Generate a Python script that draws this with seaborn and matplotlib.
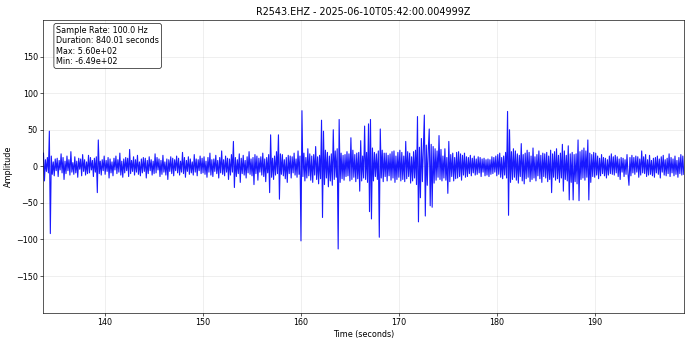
import numpy as np
import pandas as pd
import matplotlib
matplotlib.use("Agg")
import matplotlib.pyplot as plt
import seaborn as sns

# trace values, one value every 0.1 s starting at 133.7 s
start_time = 133.7
step = 0.1

quiet_start = [
    18, -20, 9,
    -7, 12, -9, 48, -92, 14, -11, 6, -13, 10,
    -6, 11, -14, 8, -5, 17, -9, 12, -18, 7,
    -10, 14, -6, 9, -12, 20, -8, 5, -11, 13,
    -9, 7, -15, 11, -4, 10, -13, 16, -7, 9,
    -12, 6, -10, 15, -9, 12, -5, 8, -14, 11,
    -8, 13, -36, 36, -10, 7, -12, 9, -6, 14,
    -11, 8, -7, 12, -16, 10, -9, 6, -13, 11,
    -5, 14, -10, 9, -8, 18, -12, 7, -15, 10,
    -9, 12, -6, 11, -14, 23, -10, 8, -7, 13,
    -12, 9, -8, 15, -11, 6, -13, 10, -9, 12,
    -7, 11, -16, 8, -10, 13, -6, 9, -12, 7,
    -10, 17, -9, 12, -5, 10, -14, 8, -11, 15,
    -8, 6, -12, 10, -18, 9, -7, 13, -10, 11,
    -13, 9, -6, 14, -9, 11, -12, 7, -8, 19,
    -10, 12, -15, 8, -7, 13, -11, 10, -9, 6,
    -12, 16, -8, 10, -13, 9, -6, 14, -10, 11,
]
build_up = [
    -9, 13, -11, 7, -15, 12, -8, 18, -12, 9,
    -14, 10, -7, 15, -10, 8, -16, 12, -9, 21,
    -11, 9, -13, 14, -8, 11, -18, 10, -12, 16,
    -8, 34, -29, 12, -14, 9, -10, 17, -22, 11,
    -10, 15, -12, 8, -16, 13, -9, 20, -11, 10,
    -13, 12, -25, 16, -10, 14, -19, 11, -8, 13,
    -12, 18, -14, 10, -21, 12, -9, 16, -36, 43,
    -15, 11, -18, 14, -12, 20, -10, 43, -45, 17,
    -11, 16, -13, 9, -17, 12, -22, 15, -10, 14,
    -16, 13, -9, 18, -12, 10, -15, 21, -11, 14,
]
event = [
    -102, 76, -14, 18, -20, 12, -16, 24, -13, 17,
    -19, 14, -22, 16, -12, 27, -18, 13, -24, 15,
    -17, 63, -70, 48, -25, 22, -16, 19, -28, 14,
    -20, 17, -26, 50, -18, 21, -15, 24, -113, 64,
    -22, 18, -17, 15, -19, 16, -14, 20, -13, 17,
    -20, 39, -18, 22, -15, 16, -21, 18, -17, 19,
    -34, 35, -20, 14, -16, 55, -18, 19, -22, 58,
    -62, 64, -72, 25, -20, 19, -14, 17, -18, 21,
    -97, 51, -16, 22, -21, 18, -14, 18, -20, 15,
    -13, 17, -19, 20, -16, 21, -22, 14, -18, 19,
    -15, 22, -20, 19, -18, 14, -21, 34, -17, 20,
    -14, 18, -23, 13, -20, 20, -16, 22, -25, 68,
    -76, 26, -43, 38, -21, 24, 70, -68, 29, -26,
    22, 51, -54, 30, -56, 27, -23, 24, -19, 21,
    -15, 42, -18, 23, -20, 14, -16, 24, -19, 12,
    -37, 34, -21, 16, -14, 18, -20, 12, -17, 19,
]
calm = [
    -16, 20, -14, 17, -19, 15, -12, 18, -15, 13,
    -14, 12, -10, 15, -13, 11, -9, 14, -12, 10,
    -11, 13, -9, 12, -14, 10, -8, 11, -13, 9,
    -12, 10, -14, 9, -11, 13, -10, 12, -8, 14,
    -13, 16, -11, 18, -15, 12, -17, 14, -12, 19,
]
aftershock = [
    -16, 75, -67, 50, -22, 20, -18, 24, -15, 21,
    -19, 17, -23, 15, -14, 31, -20, 16, -24, 18,
    -17, 22, -15, 19, -21, 14, -18, 25, -16, 13,
    -20, 16, -13, 21, -17, 15, -22, 18, -14, 17,
    -16, 19, -21, 14, -18, 22, -36, 17, -15, 20,
    -19, 24, -17, 15, -22, 18, -16, 30, -34, 21,
    -18, 15, -20, 28, -46, 17, -22, 19, -46, 16,
    -21, 17, -24, 36, -47, 20, -18, 22, -16, 25,
    -19, 21, -15, 36, -46, 18, -22, 16, -14, 19,
]
tail = [
    -15, 18, -12, 14, -17, 11, -13, 16, -10, 12,
    -13, 11, -16, 9, -12, 14, -10, 17, -11, 13,
    -12, 15, -9, 13, -14, 10, -18, 12, -8, 11,
    -14, 9, -11, 16, -10, -26, 12, -13, 15, -9,
    12, -11, 14, -8, 13, -15, 10, -12, 21, -9,
    13, -10, 16, -14, 9, -12, 15, -11, 8, -13,
    11, -15, 12, -9, 14, -11, 10, -16, 13, -8,
    15, -12, 9, -13, 11, -10, 17, -14, 12, -9,
    10, -13, 14, -11, 8, -15, 12, -10, 16, -12,
    14, -11,
]

title = "R2543.EHZ - 2025-06-10T05:42:00.004999Z"
stats_text = ("Sample Rate: 100.0 Hz\nDuration: 840.01 seconds\n"
              "Max: 5.60e+02\nMin: -6.49e+02")

amplitude = quiet_start + build_up + event + calm + aftershock + tail
df = pd.DataFrame({"Amplitude": amplitude})
df["Time"] = start_time + step * np.arange(len(df))

fig, ax = plt.subplots(figsize=(12, 6), dpi=57.5)
fig.subplots_adjust(left=0.063, right=0.991, top=0.942, bottom=0.094)

sns.lineplot(data=df, x="Time", y="Amplitude", ax=ax, color="blue",
             linewidth=1.4, alpha=0.9, estimator=None, sort=False)

ax.set_xlim(133.7, 199.1)
ax.set_ylim(-200, 200)
ax.set_xticks([140, 150, 160, 170, 180, 190])
ax.set_yticks([-150, -100, -50, 0, 50, 100, 150])
ax.grid(True, alpha=0.3)
ax.set_title(title, fontsize=12)
ax.set_xlabel("Time (seconds)")
ax.set_ylabel("Amplitude")

ax.text(0.02, 0.98, stats_text, transform=ax.transAxes, va="top", fontsize=10,
        bbox=dict(boxstyle="round", facecolor="white", alpha=0.8))

fig.savefig("out.png", dpi=57.5)
